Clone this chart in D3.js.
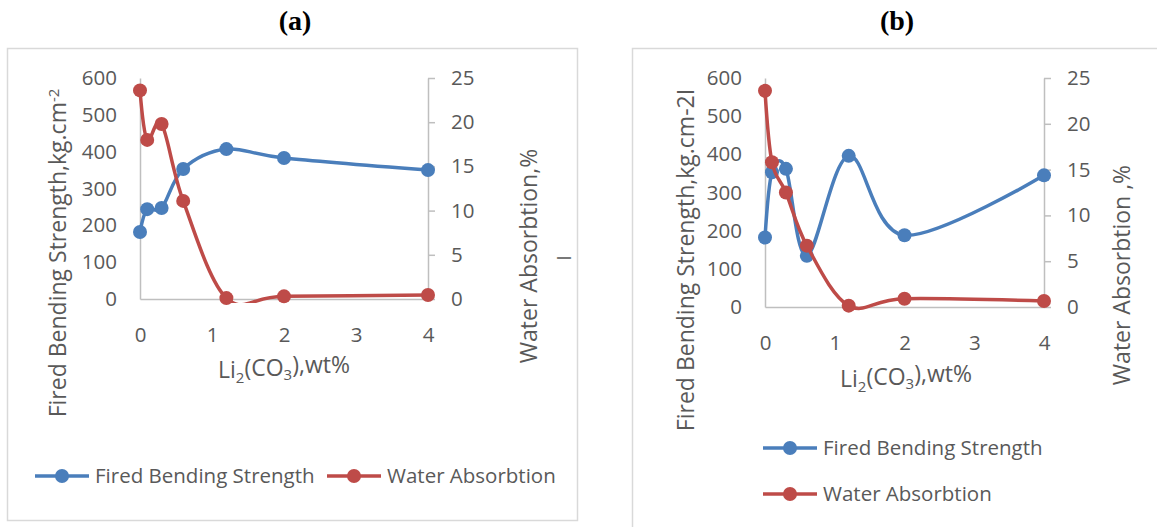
<!DOCTYPE html>
<html>
<head>
<meta charset="utf-8">
<script src="https://cdn.jsdelivr.net/npm/d3@7"></script>
<style>
  html, body { margin: 0; padding: 0; background: #ffffff; }
  svg { display: block; }
  text { font-family: "Open Sans", sans-serif; fill: #595959; }
</style>
</head>
<body>
<svg id="chart" width="1157" height="527"></svg>
<script>
// Li2CO3 additions (wt%) shared by both panels
const xValues = [0, 0.1, 0.3, 0.6, 1.2, 2, 4];

// Panel (a)
const strengthA = [182, 244, 247, 353, 407, 383, 350];
const waterA = [23.6, 18.0, 19.8, 11.1, 0.1, 0.3, 0.45];

// Panel (b)
const strengthB = [182, 353, 362, 134, 396, 188, 345];
const waterB = [23.6, 15.8, 12.5, 6.7, 0.15, 0.9, 0.65];

// Axis ticks
const xTicks = [0, 1, 2, 3, 4];
const strengthTicks = [0, 100, 200, 300, 400, 500, 600];
const waterTicks = [0, 5, 10, 15, 20, 25];

const seriesNames = ["Fired Bending Strength", "Water Absorbtion"];
const panelTitles = ["(a)", "(b)"];

const BLUE = "#4a7ebb";
const RED = "#be4b48";
const AXIS = "#bfbfbf";
const FRAME = "#d9d9d9";

const svg = d3.select("#chart");

function subscriptTitle(g, x, y) {
  const t = g.append("text")
    .attr("x", x).attr("y", y)
    .attr("text-anchor", "middle")
    .style("font-size", "23px");
  t.append("tspan").text("Li");
  t.append("tspan").attr("dy", "0.3em").style("font-size", "15px").text("2");
  t.append("tspan").attr("dy", "-0.3em").text("(CO");
  t.append("tspan").attr("dy", "0.3em").style("font-size", "15px").text("3");
  t.append("tspan").attr("dy", "-0.3em").text("),wt%");
}

function drawPanel(cfg) {
  const g = svg.append("g");

  // chart frame
  g.append("rect")
    .attr("x", cfg.frame[0]).attr("y", cfg.frame[1])
    .attr("width", cfg.frame[2]).attr("height", cfg.frame[3])
    .attr("fill", "none").attr("stroke", FRAME).attr("stroke-width", 1.5);

  // panel title
  svg.append("text")
    .attr("x", cfg.titleX).attr("y", 30)
    .attr("text-anchor", "middle")
    .style("font-family", "'Liberation Serif', 'Times New Roman', serif")
    .style("font-weight", "bold").style("font-size", "28px")
    .style("fill", "#000")
    .text(cfg.title);

  const x = d3.scaleLinear().domain([0, 4]).range([cfg.left, cfg.right]);
  const yS = d3.scaleLinear().domain([0, 600]).range([cfg.bottom, cfg.top]);
  const yW = d3.scaleLinear().domain([0, 25]).range([cfg.bottom, cfg.top]);

  const styleAxis = sel => {
    sel.selectAll("path, line").attr("stroke", AXIS).attr("stroke-width", 1.5);
    sel.selectAll("text").style("font-size", "20.5px").style("font-family", "'Open Sans', sans-serif").attr("fill", "#595959");
  };

  g.append("g").attr("transform", `translate(0,${cfg.bottom})`)
    .call(d3.axisBottom(x).tickValues(xTicks).tickSize(0).tickPadding(28).tickFormat(d3.format("d")))
    .call(styleAxis);
  g.append("g").attr("transform", `translate(${cfg.left},0)`)
    .call(d3.axisLeft(yS).tickValues(strengthTicks).tickSize(0).tickPadding(23))
    .call(styleAxis);
  g.append("g").attr("transform", `translate(${cfg.right},0)`)
    .call(d3.axisRight(yW).tickValues(waterTicks).tickSize(7).tickSizeOuter(0).tickPadding(16))
    .call(styleAxis);
  g.selectAll(".domain").attr("fill", "none");

  // axis titles
  subscriptTitle(g, cfg.xTitleX, cfg.xTitleY);

  const lt = g.append("text")
    .attr("transform", `translate(${cfg.leftTitle[0]},${cfg.leftTitle[1]}) rotate(-90)`)
    .attr("text-anchor", "middle").style("font-size", "23px");
  lt.append("tspan").text("Fired Bending Strength,kg.cm");
  if (cfg.superscript) {
    lt.append("tspan").attr("dy", "-0.45em").style("font-size", "15px").text("-2");
  } else {
    lt.append("tspan").text("-2I");
  }

  g.append("text")
    .attr("transform", `translate(${cfg.rightTitle[0]},${cfg.rightTitle[1]}) rotate(-90)`)
    .attr("text-anchor", "middle").style("font-size", "23px")
    .text(cfg.rightTitleText);

  if (cfg.stray) {
    g.append("text")
      .attr("transform", `translate(${cfg.stray[0]},${cfg.stray[1]}) rotate(-90)`)
      .attr("text-anchor", "middle").style("font-size", "20px")
      .text("I");
  }

  // clip marks to the plot area (slightly below the baseline)
  const clipId = "clip-" + cfg.title.replace(/[()]/g, "");
  svg.append("defs").append("clipPath").attr("id", clipId)
    .append("rect")
    .attr("x", cfg.left - 30).attr("y", 0)
    .attr("width", cfg.right - cfg.left + 60).attr("height", cfg.bottom + 4);

  const curve = d3.curveCardinal.tension(0);
  const series = [
    { values: cfg.strength, y: yS, color: BLUE },
    { values: cfg.water, y: yW, color: RED }
  ];
  series.forEach(s => {
    const pts = xValues.map((d, i) => [d, s.values[i]]);
    const line = d3.line().x(d => x(d[0])).y(d => s.y(d[1])).curve(curve);
    g.append("path").datum(pts)
      .attr("d", line)
      .attr("fill", "none").attr("stroke", s.color)
      .attr("stroke-width", 3.5).attr("stroke-linejoin", "round")
      .attr("clip-path", `url(#${clipId})`);
    g.selectAll(null).data(pts).enter().append("circle")
      .attr("cx", d => x(d[0])).attr("cy", d => s.y(d[1]))
      .attr("r", 7).attr("fill", s.color);
  });

  // legend
  cfg.legend.forEach((pos, i) => {
    const color = i === 0 ? BLUE : RED;
    const lg = g.append("g").attr("transform", `translate(${pos[0]},${pos[1]})`);
    lg.append("line").attr("x1", 0).attr("x2", 54).attr("y1", 0).attr("y2", 0)
      .attr("stroke", color).attr("stroke-width", 3.5);
    lg.append("circle").attr("cx", 27).attr("cy", 0).attr("r", 7).attr("fill", color);
    lg.append("text").attr("x", 60).attr("y", 0).attr("dy", "0.35em")
      .style("font-size", "20.5px").text(seriesNames[i]);
  });
}

drawPanel({
  title: panelTitles[0], titleX: 295,
  frame: [7.5, 48.5, 570, 472],
  left: 140, right: 428, top: 78, bottom: 299,
  strength: strengthA, water: waterA,
  xTitleX: 284, xTitleY: 378,
  leftTitle: [66, 253], superscript: true,
  rightTitle: [537, 256], rightTitleText: "Water Absorbtion,%",
  stray: [571, 258],
  legend: [[35, 476], [327, 476]]
});

drawPanel({
  title: panelTitles[1], titleX: 897,
  frame: [632.5, 48.5, 540, 500],
  left: 765, right: 1044, top: 78, bottom: 307,
  strength: strengthB, water: waterB,
  xTitleX: 906, xTitleY: 387,
  leftTitle: [694, 260], superscript: false,
  rightTitle: [1130, 275], rightTitleText: "Water Absorbtion ,%",
  stray: null,
  legend: [[763, 448], [763, 494]]
});
</script>
</body>
</html>
